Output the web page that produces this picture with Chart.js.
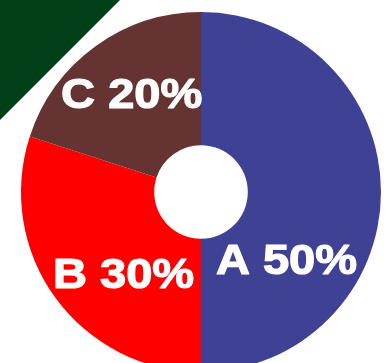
<!DOCTYPE html>
<html>
<head>
<meta charset="utf-8">
<script src="https://cdn.jsdelivr.net/npm/chart.js@4/dist/chart.umd.min.js"></script>
<style>
  html, body { margin: 0; padding: 0; background: #ffffff; overflow: hidden; }
  #wrap { position: relative; width: 387px; height: 363px; overflow: hidden; }
  canvas { display: block; }
</style>
</head>
<body>
<div id="wrap"><canvas id="chart" width="387" height="400"></canvas></div>
<script>
// Share of each category (percent)
const categories = ['A', 'B', 'C'];
const shares = [50, 30, 20];
const sliceColors = ['#3f4195', '#ff0000', '#663333'];

// Where each label sits, as a fraction of the outer radius from the centre
const labelSpots = [[0.475, 0.39], [-0.43, 0.47], [-0.385, -0.53]];

// Dark green corner wedge behind the chart
const cornerWedge = {
  id: 'cornerWedge',
  beforeDraw(chart) {
    const ctx = chart.ctx;
    ctx.save();
    ctx.fillStyle = '#003f17';
    ctx.beginPath();
    ctx.moveTo(0, 0);
    ctx.lineTo(120, 0);
    ctx.lineTo(0, 120);
    ctx.closePath();
    ctx.fill();
    ctx.restore();
  }
};

// Bold white "category value%" labels on top of the slices
const sliceLabels = {
  id: 'sliceLabels',
  afterDatasetsDraw(chart) {
    const ctx = chart.ctx;
    const meta = chart.getDatasetMeta(0);
    const values = chart.data.datasets[0].data;
    ctx.save();
    ctx.fillStyle = '#ffffff';
    ctx.strokeStyle = '#ffffff';
    ctx.lineWidth = 1.2;
    ctx.lineJoin = 'round';
    ctx.font = 'bold 42px "Liberation Sans", Arial, sans-serif';
    ctx.textAlign = 'center';
    ctx.textBaseline = 'middle';
    meta.data.forEach((arc, i) => {
      const r = arc.outerRadius;
      const x = arc.x + labelSpots[i][0] * r;
      const y = arc.y + labelSpots[i][1] * r;
      const text = chart.data.labels[i] + ' ' + values[i] + '%';
      ctx.save();
      ctx.translate(x, y);
      ctx.scale(1.12, 1);
      ctx.fillText(text, 0, 0);
      ctx.strokeText(text, 0, 0);
      ctx.restore();
    });
    ctx.restore();
  }
};

new Chart(document.getElementById('chart'), {
  type: 'doughnut',
  data: {
    labels: categories,
    datasets: [{
      data: shares,
      backgroundColor: sliceColors,
      borderWidth: 0,
      hoverOffset: 0
    }]
  },
  options: {
    responsive: false,
    maintainAspectRatio: false,
    animation: false,
    cutout: '26%',
    rotation: 0,
    layout: { padding: { left: 21, right: 6, top: 12, bottom: 28 } },
    plugins: {
      legend: { display: false },
      tooltip: { enabled: false }
    }
  },
  plugins: [cornerWedge, sliceLabels]
});
</script>
</body>
</html>
